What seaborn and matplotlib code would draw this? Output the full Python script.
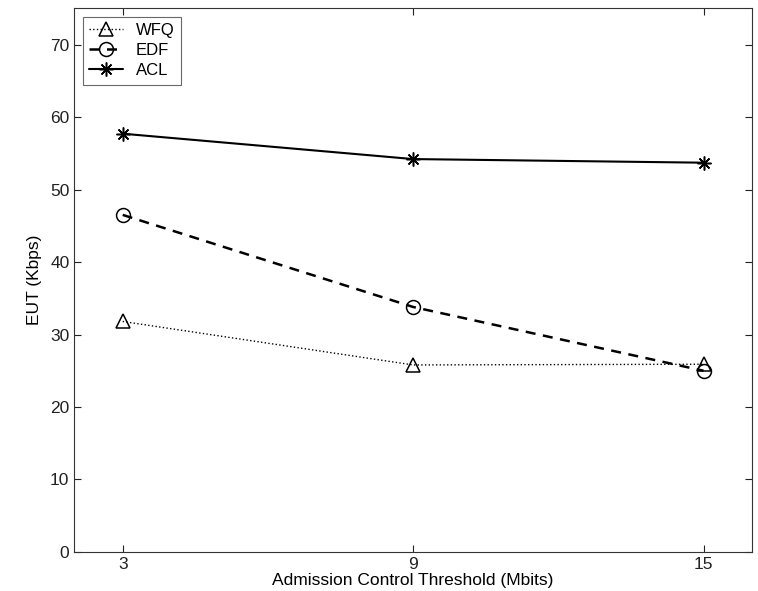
import numpy as np
import pandas as pd
import matplotlib
matplotlib.use("Agg")
import matplotlib.pyplot as plt
import seaborn as sns

# --- dati ---
soglie = [3, 9, 15]
wfq = [31.8, 25.8, 25.9]
edf = [46.5, 33.8, 25.0]
acl = [57.7, 54.2, 53.7]

serie = ["WFQ", "EDF", "ACL"]

df = pd.DataFrame({
    "soglia": soglie * 3,
    "eut": wfq + edf + acl,
    "serie": np.repeat(serie, len(soglie)),
})

sns.set_style("ticks")
plt.rcParams['font.family'] = ['Liberation Sans', 'DejaVu Sans']
plt.rcParams['text.color'] = 'black'
plt.rcParams['axes.labelcolor'] = 'black'
plt.rcParams['xtick.color'] = '#222222'
plt.rcParams['ytick.color'] = '#222222'

fig = plt.figure(figsize=(7.58, 5.91), dpi=100)
ax = fig.add_axes([0.098, 0.066, 0.894, 0.920])

stili = {
    "WFQ": dict(linestyle=":", marker="^", lw=1.0, ms=10),
    "EDF": dict(linestyle="--", marker="o", lw=1.8, ms=10, dashes=(4, 3)),
    "ACL": dict(linestyle="-", marker=(8, 2, 0), lw=1.5, ms=10),
}

for nome in serie:
    sub = df[df["serie"] == nome]
    kw = dict(stili[nome])
    dashes = kw.pop("dashes", None)
    sns.lineplot(data=sub, x="soglia", y="eut", ax=ax, color="black",
                 label=nome, markerfacecolor="none", markeredgecolor="black",
                 markeredgewidth=1.1, **kw)
    if dashes is not None:
        ax.lines[-1].set_dashes(dashes)

ax.set_xlim(2, 16)
ax.set_ylim(0, 75)
ax.set_xticks(soglie)
ax.set_yticks(range(0, 71, 10))
ax.tick_params(direction="in", length=5, labelsize=12.5, width=0.8)
ax.tick_params(axis="x", top=True)
ax.tick_params(axis="y", right=True)
for s in ax.spines.values():
    s.set_linewidth(0.8)
    s.set_color("#333333")

ax.set_xlabel("Admission Control Threshold (Mbits)", fontsize=12.5, labelpad=1)
ax.set_ylabel("EUT (Kbps)", fontsize=12.5, labelpad=6)

leg = ax.legend(loc="upper left", fontsize=12, frameon=True, fancybox=False,
                edgecolor="#444444", handlelength=2.0, borderpad=0.4,
                labelspacing=0.3, handletextpad=0.8, borderaxespad=0.5)
leg.get_frame().set_linewidth(0.8)

fig.savefig("out.png", dpi=100)
